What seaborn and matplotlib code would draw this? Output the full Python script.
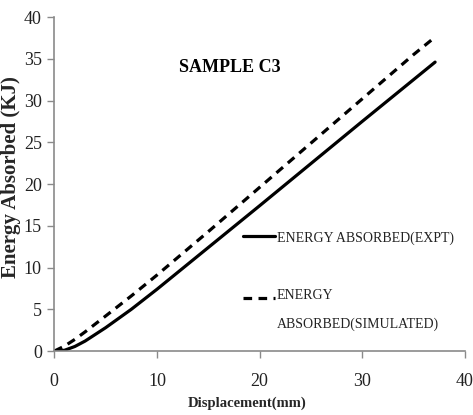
import matplotlib
matplotlib.use("Agg")
import matplotlib.pyplot as plt
from matplotlib.legend_handler import HandlerLine2D
import seaborn as sns
import pandas as pd

# Data
displacement = [0, 1, 2, 3, 5, 7.5, 10, 12.5, 15, 20, 25, 30, 35, 37.1]
energy_expt = [0, 0.1, 0.55, 1.2, 2.8, 5.0, 7.4, 9.9, 12.4, 17.4, 22.45, 27.5, 32.5, 34.6]
energy_sim = [0, 0.6, 1.4, 2.3, 4.2, 6.6, 9.1, 11.7, 14.3, 19.6, 24.9, 30.2, 35.5, 37.6]
label_expt = "ENERGY ABSORBED(EXPT)"
label_sim = "ENERGY\nABSORBED(SIMULATED)"
x_ticks = [0, 10, 20, 30, 40]
y_ticks = [0, 5, 10, 15, 20, 25, 30, 35, 40]

df = pd.DataFrame({
    "Displacement": displacement * 2,
    "Energy": energy_expt + energy_sim,
    "Series": [label_expt] * len(displacement) + [label_sim] * len(displacement),
})

sns.set_theme(style="white")
plt.rcParams["font.family"] = ["Liberation Serif", "DejaVu Serif"]

fig = plt.figure(figsize=(4.73, 4.15), dpi=100)
ax = fig.add_axes([0.1148, 0.154, 0.868, 0.805])

sns.lineplot(
    data=df, x="Displacement", y="Energy", hue="Series", style="Series",
    palette=["black", "black"],
    dashes={label_expt: "", label_sim: (2.7, 2.0)},
    linewidth=2.3, ax=ax, legend=True,
)

ax.set_xlim(0, 40)
ax.set_ylim(0, 40)
ax.set_xticks(x_ticks)
ax.set_yticks(y_ticks)
ax.tick_params(axis="both", which="major", direction="out", length=5, width=1,
               color="#8a8a8a", labelsize=13, labelcolor="#222222", pad=4,
               left=True, bottom=True)
ax.tick_params(axis="x", pad=11)
for side in ["top", "right"]:
    ax.spines[side].set_visible(False)
for side in ["left", "bottom"]:
    ax.spines[side].set_color("#8a8a8a")
    ax.spines[side].set_linewidth(1.2)

ax.set_xlabel("Displacement(mm)", fontsize=10.5, fontweight="bold")
ax.xaxis.set_label_coords(0.47, -0.135)
ax.set_ylabel("Energy Absorbed (KJ)", fontsize=15, fontweight="bold")
ax.yaxis.set_label_coords(-0.082, 0.52)

ax.text(17.1, 33.9, "SAMPLE C3", fontsize=13, fontweight="bold",
        ha="center", va="center", color="black")


class UpHandler(HandlerLine2D):
    def __init__(self, shift, **kw):
        super().__init__(**kw)
        self.shift = shift

    def create_artists(self, legend, orig_handle, xdescent, ydescent, width,
                       height, fontsize, trans):
        artists = super().create_artists(legend, orig_handle, xdescent, ydescent,
                                         width, height, fontsize, trans)
        for a in artists:
            a.set_ydata([y + self.shift for y in a.get_ydata()])
        return artists


handles, labels = ax.get_legend_handles_labels()
leg = ax.legend(handles, labels, loc="upper left", bbox_to_anchor=(0.445, 0.376),
                frameon=False, fontsize=10, handlelength=2.3, handletextpad=0.15,
                labelspacing=3.2, borderaxespad=0,
                handler_map={handles[1]: UpHandler(9)})
for t in leg.get_texts():
    t.set_linespacing(2.5)
    t.set_color("#222222")

fig.savefig("out.png", dpi=100)
